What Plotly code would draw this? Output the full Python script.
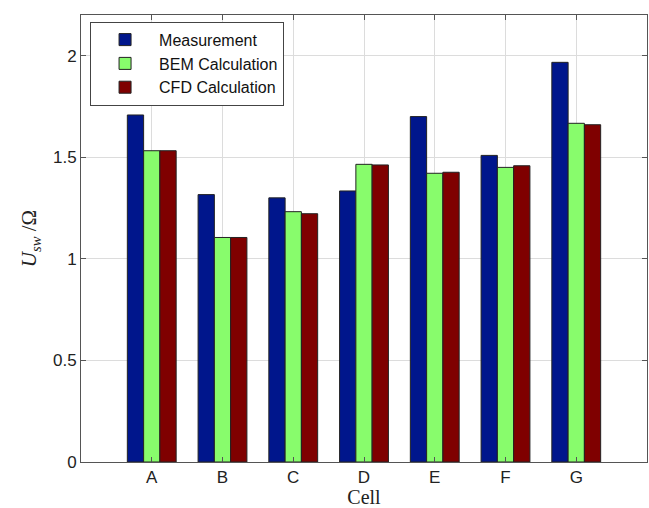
import plotly.graph_objects as go

cells = ["A", "B", "C", "D", "E", "F", "G"]
measurement = [1.708, 1.316, 1.300, 1.334, 1.700, 1.509, 1.967]
bem = [1.532, 1.105, 1.232, 1.465, 1.421, 1.450, 1.667]
cfd = [1.532, 1.105, 1.222, 1.462, 1.426, 1.458, 1.660]
series_names = ["Measurement", "BEM Calculation", "CFD Calculation"]
series_colors = ["#00168C", "#88FC6C", "#7F0000"]
y_ticks = [0, 0.5, 1, 1.5, 2]
y_tick_labels = ["0", "0.5", "1", "1.5", "2"]

x_pos = list(range(1, len(cells) + 1))

fig = go.Figure()
for name, vals, col in zip(series_names, [measurement, bem, cfd], series_colors):
    fig.add_trace(go.Bar(
        x=x_pos, y=vals, name=name,
        marker=dict(color=col, line=dict(color="#222222", width=1)),
    ))

axis_common = dict(
    showline=True, linecolor="#555555", linewidth=1, mirror="allticks",
    ticks="inside", ticklen=5, tickcolor="#555555",
    showgrid=True, gridcolor="#dcdcdc", gridwidth=1, zeroline=False,
    tickfont=dict(family="Liberation Sans, Arial", size=17, color="#222222"),
)

fig.update_layout(
    width=649, height=508,
    margin=dict(l=81, r=2, t=15, b=46),
    paper_bgcolor="white", plot_bgcolor="white",
    barmode="group", bargap=0.31, bargroupgap=0,
    xaxis=dict(
        range=[0, 8], tickvals=x_pos, ticktext=cells,
        title=dict(text="Cell", font=dict(family="Liberation Serif, Times New Roman", size=20, color="#222222"), standoff=4),
        **axis_common,
    ),
    yaxis=dict(
        range=[0, 2.2], tickvals=y_ticks, ticktext=y_tick_labels,
        title=dict(text="<i>U</i><sub><i>sw</i></sub> /Ω", font=dict(family="Liberation Serif, Times New Roman", size=21, color="#222222"), standoff=10),
        **axis_common,
    ),
    legend=dict(
        x=0.016, y=0.985, xanchor="left", yanchor="top",
        bgcolor="white", bordercolor="#444444", borderwidth=1,
        font=dict(family="Liberation Sans, Arial", size=16, color="#111111"),
        itemwidth=58, tracegroupgap=0,
    ),
    showlegend=True,
)

fig.write_html("out.html")
